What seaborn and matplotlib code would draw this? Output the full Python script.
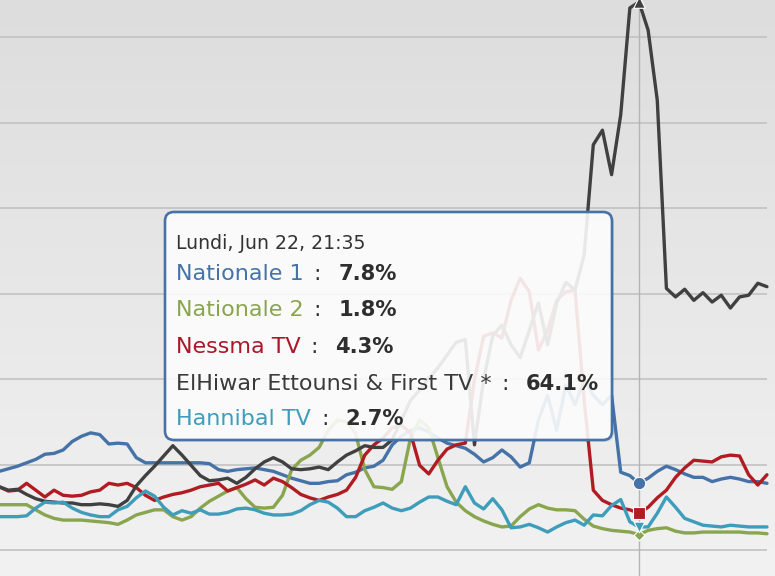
import numpy as np
import pandas as pd
import matplotlib
matplotlib.use("Agg")
import matplotlib.pyplot as plt
import seaborn as sns
from matplotlib.patches import FancyBboxPatch
from matplotlib.colors import LinearSegmentedColormap
from matplotlib.transforms import IdentityTransform

# ---------------- data (audience share, %) ----------------
times = [f"{(945 + 5 * k) // 60:02d}:{(945 + 5 * k) % 60:02d}" for k in range(85)]

nationale1 = [9.2, 9.5, 9.8, 10.2, 10.6, 11.2, 11.3, 11.7, 12.7, 13.3,
              13.7, 13.5, 12.4, 12.5, 12.4, 10.8, 10.2, 10.2, 10.2, 10.2,
              10.2, 10.2, 10.2, 10.1, 9.4, 9.2, 9.4, 9.5, 9.6, 9.4,
              9.2, 8.8, 8.4, 8.1, 7.8, 7.8, 8.0, 8.1, 8.8, 9.1,
              9.6, 9.8, 10.5, 12.3, 13.3, 14.0, 14.3, 13.8, 13.1, 12.5,
              12.2, 11.9, 11.2, 10.3, 10.8, 11.7, 10.9, 9.7, 10.2, 15.2,
              18.1, 14.0, 19.3, 17.0, 19.9, 18.1, 17.0, 18.1, 9.1, 8.7,
              7.8, 8.4, 9.2, 9.8, 9.4, 8.9, 8.5, 8.5, 8.0, 8.3,
              8.5, 8.3, 8.0, 8.0, 7.8]
nationale2 = [5.3, 5.3, 5.3, 5.3, 4.7, 4.1, 3.7, 3.5, 3.5, 3.5,
              3.4, 3.3, 3.2, 3.0, 3.5, 4.1, 4.4, 4.7, 4.7, 3.9,
              3.5, 3.9, 4.9, 5.7, 6.3, 6.9, 7.3, 6.0, 5.0, 4.9,
              5.0, 6.4, 9.4, 10.5, 11.1, 12.0, 14.0, 15.2, 15.0, 13.6,
              9.4, 7.4, 7.3, 7.1, 8.0, 13.1, 15.2, 14.3, 10.8, 7.4,
              5.6, 4.6, 3.9, 3.4, 3.0, 2.7, 2.8, 3.9, 4.8, 5.3,
              4.9, 4.7, 4.7, 4.6, 3.6, 2.8, 2.5, 2.3, 2.2, 2.1,
              1.8, 2.3, 2.5, 2.6, 2.2, 2.0, 2.0, 2.1, 2.1, 2.1,
              2.1, 2.1, 2.0, 2.0, 1.9]
nessma = [7.4, 6.9, 7.0, 7.8, 7.0, 6.2, 7.0, 6.4, 6.3, 6.4,
          6.8, 7.0, 7.8, 7.6, 7.8, 7.3, 6.4, 5.8, 6.2, 6.5,
          6.7, 7.0, 7.4, 7.6, 7.8, 6.9, 7.3, 7.7, 8.2, 7.6,
          8.4, 8.0, 7.3, 6.5, 6.1, 5.8, 6.2, 6.5, 7.0, 8.5,
          11.1, 12.3, 13.1, 14.3, 14.6, 13.7, 9.9, 8.9, 10.5, 11.8,
          12.3, 12.5, 19.9, 25.0, 25.4, 24.8, 29.2, 31.8, 30.2, 23.4,
          25.7, 29.2, 30.2, 30.4, 17.5, 7.0, 5.8, 5.3, 4.9, 4.7,
          4.3, 5.0, 6.1, 7.0, 8.5, 9.6, 10.5, 10.4, 10.3, 10.9,
          11.1, 11.0, 8.8, 7.6, 8.8]
elhiwar = [7.4, 7.0, 7.1, 6.5, 6.0, 5.7, 5.6, 5.5, 5.5, 5.3,
           5.3, 5.4, 5.3, 5.1, 5.8, 7.5, 8.7, 9.8, 11.0, 12.2,
           11.1, 9.9, 8.7, 8.1, 8.2, 8.4, 7.8, 8.5, 9.5, 10.3,
           10.8, 10.3, 9.5, 9.4, 9.5, 9.7, 9.4, 10.3, 11.1, 11.6,
           12.2, 12.0, 12.0, 12.9, 15.2, 17.5, 18.7, 20.1, 21.3, 22.8,
           24.3, 24.6, 12.3, 19.9, 25.1, 26.3, 24.0, 22.5, 25.7, 28.9,
           24.0, 28.9, 31.3, 30.4, 34.5, 47.4, 49.1, 43.9, 50.9, 63.4,
           64.1, 60.8, 52.6, 30.6, 29.6, 30.5, 29.2, 30.1, 29.0, 29.8,
           28.3, 29.6, 29.8, 31.2, 30.8]
hannibal = [3.9, 3.9, 3.9, 4.0, 4.9, 5.6, 5.5, 5.6, 4.9, 4.4,
            4.1, 3.9, 3.9, 4.7, 5.1, 6.1, 6.9, 6.3, 5.0, 4.1,
            4.6, 4.3, 4.7, 4.2, 4.2, 4.4, 4.8, 4.9, 4.7, 4.3,
            4.1, 4.1, 4.2, 4.6, 5.3, 5.8, 5.6, 4.9, 3.9, 3.9,
            4.6, 5.0, 5.5, 4.9, 4.6, 4.9, 5.6, 6.2, 6.2, 5.7,
            5.3, 7.4, 5.5, 4.8, 6.0, 4.7, 2.6, 2.7, 3.0, 2.6,
            2.1, 2.7, 3.2, 3.5, 2.9, 4.1, 4.0, 5.2, 5.9, 3.3,
            2.7, 2.7, 4.3, 6.2, 5.0, 3.7, 3.3, 2.9, 2.8, 2.7,
            2.9, 2.8, 2.7, 2.7, 2.7]

channels = ["Nationale 1", "Nationale 2", "Nessma TV",
            "ElHiwar Ettounsi & First TV *", "Hannibal TV"]
series = [nationale1, nationale2, nessma, elhiwar, hannibal]
colors = ["#4572A7", "#89A54E", "#B01C22", "#404040", "#3D9DBA"]
label_colors = ["#4572A7", "#89A54E", "#A8182A", "#3A3A3A", "#3D9DBA"]
markers = ["o", "D", "s", "^", "v"]
marker_sizes = [80, 30, 80, 70, 60]
hover_time = "21:35"
tooltip_header = "Lundi, Jun 22, 21:35"
grid_levels = [0, 10, 20, 30, 40, 50, 60]

# ---------------- build frame ----------------
df = pd.concat([pd.DataFrame({"slot": np.arange(len(times)), "time": times,
                              "share": vals, "channel": name})
                for name, vals in zip(channels, series)], ignore_index=True)
hi = times.index(hover_time)

plt.rcParams["lines.solid_joinstyle"] = "round"
plt.rcParams["lines.solid_capstyle"] = "round"
plt.rcParams["font.family"] = ["DejaVu Sans"]

W, H = 775, 576
fig = plt.figure(figsize=(W / 100, H / 100), dpi=100)
ax = fig.add_axes([0, 0, 1, 1])
x_left, x_right = 0.09, 84.88
y_bot, y_top = -3.04, 64.33

# background gradient
bg = LinearSegmentedColormap.from_list("bg", ["#dddddd", "#f2f2f2"])
ax.imshow(np.linspace(0, 1, 256).reshape(-1, 1), extent=[x_left, x_right, y_bot, y_top],
          aspect="auto", cmap=bg, origin="upper", zorder=0)

ax.hlines(grid_levels, x_left, len(times) - 1, color="#c2c2c2", lw=1.2, zorder=1)
ax.axvline(hi, color="#b4b4b4", lw=1.0, zorder=1.5)

sns.lineplot(data=df, x="slot", y="share", hue="channel", hue_order=channels,
             palette=dict(zip(channels, colors)), linewidth=2.4, legend=False,
             ax=ax, zorder=3)

for vals, c, m, s in zip(series, colors, markers, marker_sizes):
    ax.scatter([hi], [vals[hi]], marker=m, s=s, color=c, edgecolor="white",
               linewidth=0.8, zorder=5)

ax.set_xlim(x_left, x_right)
ax.set_ylim(y_bot, y_top)
ax.set_axis_off()

# ---------------- tooltip ----------------
px = IdentityTransform()
bx0, bx1, by_top, by_bot = 165, 612, 212, 440
shadow = FancyBboxPatch((bx0 + 2, H - by_bot - 2), bx1 - bx0, by_bot - by_top,
                        boxstyle="round,pad=0,rounding_size=9", transform=px,
                        facecolor="black", alpha=0.08, edgecolor="none", zorder=8)
box = FancyBboxPatch((bx0, H - by_bot), bx1 - bx0, by_bot - by_top,
                     boxstyle="round,pad=0,rounding_size=9", transform=px,
                     facecolor=(1, 1, 1, 0.89), edgecolor="#4572A7", lw=1.9, zorder=9)
fig.add_artist(shadow)
fig.add_artist(box)

fig.canvas.draw()
renderer = fig.canvas.get_renderer()

def ftext(x, y, s, **kw):
    return fig.text(x / W, 1 - y / H, s, va="baseline", ha="left", zorder=10, **kw)

ftext(176, 249, tooltip_header, fontsize=13.6, color="#333333")
baselines = [280, 316.5, 353, 389.5, 425]
for name, vals, lc, yb in zip(channels, series, label_colors, baselines):
    t1 = ftext(176, yb, name, fontsize=16.0, color=lc)
    e1 = t1.get_window_extent(renderer)
    t2 = ftext(e1.x1 + 10, yb, ":", fontsize=16.0, color="#333333")
    e2 = t2.get_window_extent(renderer)
    ftext(e2.x1 + 17, yb, f"{vals[hi]:.1f}%", fontsize=15.2, color="#2e2e2e",
          fontweight="bold")

fig.savefig("out.png", dpi=100)
